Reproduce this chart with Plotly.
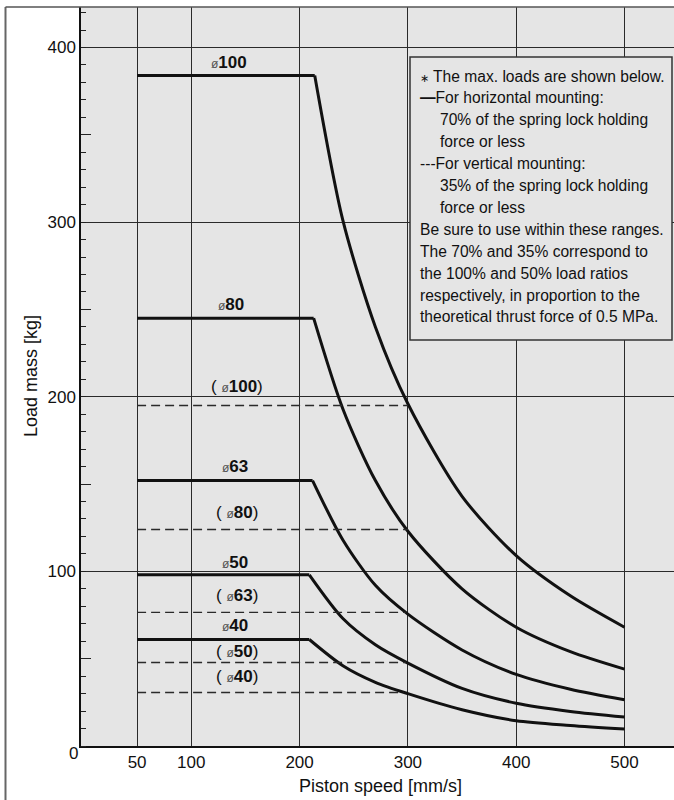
import plotly.graph_objects as go

# ---------------- data ----------------
bores = ["100", "80", "63", "50", "40"]

# horizontal mounting (solid): flat part from 50 mm/s to break speed, then decay curve
speed_100 = [50, 214, 240, 270, 300, 350, 400, 450, 500]
load_100 = [384, 384, 301, 240, 196, 143, 109, 86, 68]
speed_80 = [50, 213, 240, 270, 300, 350, 400, 450, 500]
load_80 = [245, 245, 193, 152, 123, 90, 68, 54, 44]
speed_63 = [50, 212, 240, 270, 300, 350, 400, 450, 500]
load_63 = [152, 152, 118, 92, 75.5, 55, 41, 32.5, 26.5]
speed_50 = [50, 209, 240, 270, 300, 350, 400, 450, 500]
load_50 = [98, 98, 73, 58, 47.5, 33, 24.5, 19.8, 16.6]
speed_40 = [50, 209, 240, 270, 300, 350, 400, 450, 500]
load_40 = [61, 61, 46, 36.5, 30, 20.8, 14.5, 11.8, 9.8]

# vertical mounting (dashed): constant load from 50 mm/s to end speed
vert_start = [50, 50, 50, 50, 50]
vert_end = [300, 300, 298, 298, 296]
vert_load = [195, 124, 76.5, 47.8, 30.6]

x_ticks = [50, 100, 200, 300, 400, 500]
y_ticks = [0, 100, 200, 300, 400]
y_ticktext = ["", "100", "200", "300", "400"]

# label positions (layout, data coords)
solid_label_x = [135, 137, 140, 140, 140]
solid_label_y = [391.5, 253, 160, 105, 69]
dash_label_x = [142, 142, 142, 142, 142]
dash_label_y = [206, 134, 86, 54.3, 40]

legend_lines = [
    ("<span style='font-size:11px'>∗</span> The max. loads are shown below.", 0),
    ("<b>—</b>For horizontal mounting:", 0),
    ("70% of the spring lock holding", 1),
    ("force or less", 1),
    ("---For vertical mounting:", 0),
    ("35% of the spring lock holding", 1),
    ("force or less", 1),
    ("Be sure to use within these ranges.", 0),
    ("The 70% and 35% correspond to", 0),
    ("the 100% and 50% load ratios", 0),
    ("respectively, in proportion to the", 0),
    ("theoretical thrust force of 0.5 MPa.", 0),
]

# ---------------- layout geometry ----------------
W, H = 674, 800
ML, MR, MT, MB = 81, 0, 7, 54
PW, PH = W - ML - MR, H - MT - MB


def px(x):
    return (x - ML) / PW


def py(y):
    return (H - MB - y) / PH


FONT = "Liberation Sans, Arial, Helvetica, sans-serif"
INK = "#111111"
BG = "#e5e5e5"

fig = go.Figure()

solid_sets = [(speed_100, load_100), (speed_80, load_80), (speed_63, load_63),
              (speed_50, load_50), (speed_40, load_40)]

for sx, sy in solid_sets:
    # flat segment
    fig.add_trace(go.Scatter(x=sx[:2], y=sy[:2], mode="lines",
                             line=dict(color=INK, width=3), showlegend=False,
                             hoverinfo="skip"))
    # decay segment
    fig.add_trace(go.Scatter(x=sx[1:], y=sy[1:], mode="lines",
                             line=dict(color=INK, width=3, shape="spline", smoothing=0.8),
                             showlegend=False, hoverinfo="skip"))

for i in range(len(bores)):
    fig.add_trace(go.Scatter(x=[vert_start[i], vert_end[i]], y=[vert_load[i], vert_load[i]],
                             mode="lines", line=dict(color="#2a2a2a", width=1.4, dash="9px,5px"),
                             showlegend=False, hoverinfo="skip"))

annotations = []
phi = "<span style='font-size:12px;color:#555555'>ø</span>"
for i, b in enumerate(bores):
    annotations.append(dict(x=solid_label_x[i], y=solid_label_y[i], xref="x", yref="y",
                            xanchor="center", yanchor="middle",
                            text=phi + "<b>" + b + "</b>", showarrow=False,
                            font=dict(family=FONT, size=17, color=INK)))
    annotations.append(dict(x=dash_label_x[i], y=dash_label_y[i], xref="x", yref="y",
                            xanchor="center", yanchor="middle",
                            text="( " + phi + "<b>" + b + "</b>)", showarrow=False,
                            font=dict(family=FONT, size=17, color=INK)))

# legend box text
line_y0, line_dy = 76, 21.9
for k, (txt, ind) in enumerate(legend_lines):
    annotations.append(dict(x=px(418 + 19.5 * ind), y=py(line_y0 + k * line_dy),
                            xref="paper", yref="paper", xanchor="left", yanchor="middle",
                            text=txt, showarrow=False,
                            font=dict(family=FONT, size=15.6, color=INK)))

# axis titles and origin label
annotations.append(dict(x=px(380), y=py(786), xref="paper", yref="paper",
                        xanchor="center", yanchor="middle",
                        text="Piston speed [mm/s]", showarrow=False,
                        font=dict(family=FONT, size=18, color=INK)))
annotations.append(dict(x=px(31), y=py(376), xref="paper", yref="paper",
                        xanchor="center", yanchor="middle",
                        text="Load mass [kg]", textangle=-90, showarrow=False,
                        font=dict(family=FONT, size=18, color=INK)))
annotations.append(dict(x=px(73), y=py(753), xref="paper", yref="paper",
                        xanchor="center", yanchor="middle",
                        text="0", showarrow=False,
                        font=dict(family=FONT, size=17, color=INK)))

shapes = [
    # legend box
    dict(type="rect", xref="paper", yref="paper", x0=px(410), x1=px(672), y0=py(340), y1=py(57),
         fillcolor=BG, line=dict(color="#333333", width=1.5), layer="above"),
    # outer frame (left and top)
    dict(type="line", xref="paper", yref="paper", x0=px(5.5), x1=px(5.5), y0=py(800), y1=py(7),
         line=dict(color="#666666", width=2)),
    dict(type="line", xref="paper", yref="paper", x0=px(5.5), x1=1, y0=py(7), y1=py(7),
         line=dict(color="#555555", width=1.5)),
]

fig.update_layout(
    width=W, height=H,
    margin=dict(l=ML, r=MR, t=MT, b=MB, pad=0),
    paper_bgcolor="white", plot_bgcolor=BG,
    font=dict(family=FONT, size=17, color=INK),
    showlegend=False,
    annotations=annotations,
    shapes=shapes,
    xaxis=dict(range=[-1.8, 545.7], tickmode="array", tickvals=x_ticks,
               showgrid=True, gridcolor="#2a2a2a", gridwidth=1,
               ticks="", showline=True, linecolor=INK, linewidth=1.5,
               zeroline=False, tickfont=dict(size=17, family=FONT, color=INK)),
    yaxis=dict(range=[0, 423.2], tickmode="array", tickvals=y_ticks, ticktext=y_ticktext,
               showgrid=True, gridcolor="#2a2a2a", gridwidth=1,
               ticks="", showline=True, linecolor=INK, linewidth=1.5,
               zeroline=False, tickfont=dict(size=17, family=FONT, color=INK),
               minor=dict(tickmode="linear", tick0=0, dtick=10, ticks="inside",
                          ticklen=5, tickcolor="#222222", tickwidth=1, showgrid=False)),
    yaxis2=dict(range=[0, 423.2], overlaying="y", side="left", anchor="x",
                tickmode="array", tickvals=[50, 150, 250, 350], ticks="inside",
                ticklen=10, tickcolor="#222222", tickwidth=1,
                showticklabels=False, showgrid=False, zeroline=False, showline=False),
)

# invisible trace to activate yaxis2
fig.add_trace(go.Scatter(x=[0], y=[0], yaxis="y2", mode="markers",
                         marker=dict(opacity=0), showlegend=False, hoverinfo="skip"))

fig.write_html("out.html", config={"displayModeBar": False},
               post_script="document.body.style.margin='0';document.body.style.padding='0';")
